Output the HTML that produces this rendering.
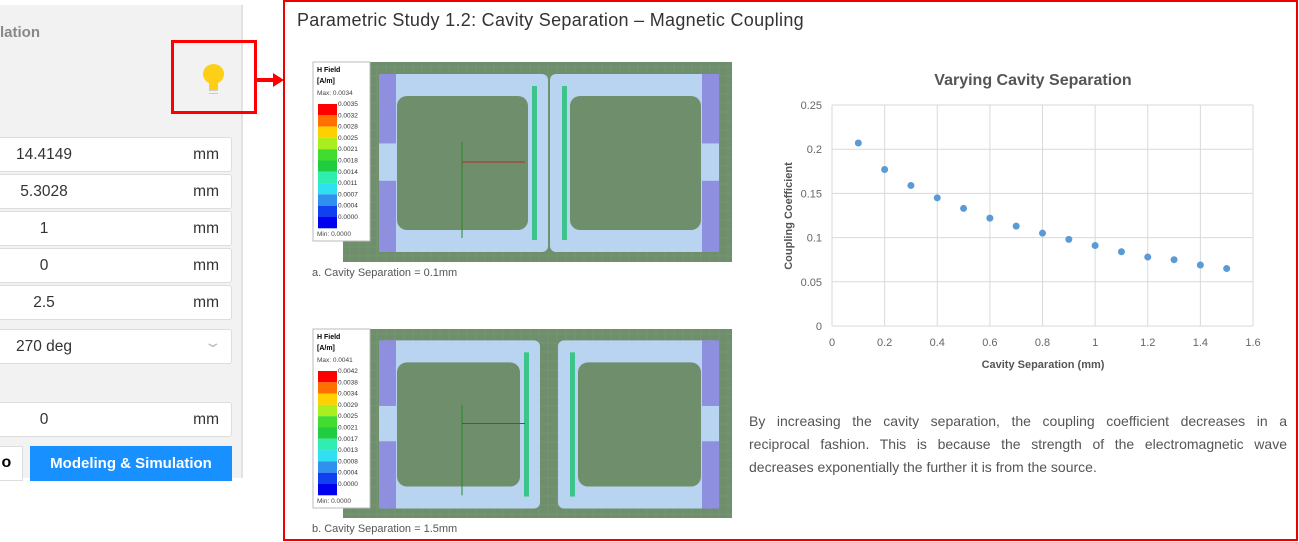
<!DOCTYPE html>
<html><head><meta charset="utf-8"><style>
*{margin:0;padding:0;box-sizing:border-box}
body{width:1299px;height:542px;background:#fff;position:relative;overflow:hidden;font-family:"Liberation Sans",sans-serif}
.abs{position:absolute}
.inp{position:absolute;left:-4px;width:236px;height:35px;background:#fff;border:1px solid #ddd;border-radius:3px;font-size:15.5px;color:#333}
.inp .v{position:absolute;left:0;width:94px;text-align:center;top:8px}
.inp .u{position:absolute;right:12px;top:8px}
.pl{text-align:justify;text-align-last:justify;height:23px;white-space:nowrap}
</style></head><body>
<div class="abs" style="left:0;top:5px;width:243px;height:473px;background:#f2f2f2;border-right:2px solid #e2e2e2"></div>
<div class="abs" style="left:0;top:24px;font-size:15px;font-weight:bold;color:#888">lation</div>
<div class="abs" style="left:171px;top:40px;width:86px;height:74px;border:3px solid #f00"></div>
<div class="abs" style="left:203px;top:64px;width:21px;height:20px;border-radius:50%;background:#fdd017"></div>
<div class="abs" style="left:209px;top:82px;width:9px;height:8px;background:#fdd017"></div>
<div class="abs" style="left:209px;top:90px;width:9px;height:4px;border-top:1px solid #ccc;border-bottom:1px solid #ccc"></div>
<div class="abs" style="left:257px;top:78px;width:17px;height:4px;background:#f00"></div>
<div class="abs" style="left:273px;top:73px;width:0;height:0;border-left:11px solid #f00;border-top:7px solid transparent;border-bottom:7px solid transparent"></div>

<div class="inp" style="top:137px"><span class="v">14.4149</span><span class="u">mm</span></div>
<div class="inp" style="top:174px"><span class="v">5.3028</span><span class="u">mm</span></div>
<div class="inp" style="top:211px"><span class="v">1</span><span class="u">mm</span></div>
<div class="inp" style="top:248px"><span class="v">0</span><span class="u">mm</span></div>
<div class="inp" style="top:285px"><span class="v">2.5</span><span class="u">mm</span></div>
<div class="inp" style="top:329px"><span class="v">270 deg</span><span class="u" style="color:#bbb;top:4px;font-size:14px;transform:scaleX(1.6)">&#8964;</span></div>
<div class="inp" style="top:402px"><span class="v">0</span><span class="u">mm</span></div>
<div class="abs" style="left:-4px;top:446px;width:27px;height:35px;background:#fff;border:1px solid #ddd;font-weight:bold;font-size:16px;padding:7px 0 0 0">&nbsp;o</div>
<div class="abs" style="left:30px;top:446px;width:202px;height:35px;background:#1890ff;color:#fff;font-weight:bold;font-size:15px;text-align:center;line-height:35px">Modeling &amp; Simulation</div>

<div class="abs" style="left:283px;top:0;width:1015px;height:541px;border:2px solid #e00"></div>
<div class="abs" style="left:297px;top:10px;font-size:18px;letter-spacing:0.3px;color:#333">Parametric Study 1.2: Cavity Separation – Magnetic Coupling</div>

<svg class="abs" style="left:0;top:0" width="1299" height="542">
<g id="simA"></g>
<g id="simB"></g>
<text x="312" y="276" font-size="11" fill="#555">a. Cavity Separation = 0.1mm</text>
<text x="312" y="532" font-size="11" fill="#555">b. Cavity Separation = 1.5mm</text>
</svg>

<svg class="abs" style="left:0;top:0" width="1299" height="542" id="chart">
<text x="1033" y="85" text-anchor="middle" font-size="16" font-weight="bold" fill="#555">Varying Cavity Separation</text>
<text transform="translate(792,216) rotate(-90)" text-anchor="middle" font-size="11" font-weight="bold" fill="#555">Coupling Coefficient</text>
<text x="1043" y="368" text-anchor="middle" font-size="11" font-weight="bold" fill="#555">Cavity Separation (mm)</text>
</svg>

<div class="abs" style="left:749px;top:410px;width:538px;font-size:14px;line-height:23px;color:#555">
<div class="pl">By increasing the cavity separation, the coupling coefficient decreases in a</div>
<div class="pl">reciprocal fashion. This is because the strength of the electromagnetic wave</div>
<div>decreases exponentially the further it is from the source.</div>
</div>

<script>
const NS='http://www.w3.org/2000/svg';
function mk(p,t,a){const e=document.createElementNS(NS,t);for(const k in a)e.setAttribute(k,a[k]);p.appendChild(e);return e;}

const xTicks=[0,0.2,0.4,0.6,0.8,1,1.2,1.4,1.6];
const yTicks=[0,0.05,0.1,0.15,0.2,0.25];
const separations=[0.1,0.2,0.3,0.4,0.5,0.6,0.7,0.8,0.9,1.0,1.1,1.2,1.3,1.4,1.5];
const coupling=[0.207,0.177,0.159,0.145,0.133,0.122,0.113,0.105,0.098,0.091,0.084,0.078,0.075,0.069,0.065];

const X0=832,X1=1253,Y0=326,Y1=105;
const sx=v=>X0+(v-0)/(1.6-0)*(X1-X0);
const sy=v=>Y0-(v-0)/(0.25-0)*(Y0-Y1);
const ch=document.getElementById('chart');
xTicks.forEach(t=>{
  const l=mk(ch,'line',{x1:sx(t),x2:sx(t),y1:Y1,y2:Y0,stroke:'#d9d9d9'});
  
  
  const tx=mk(ch,'text',{x:sx(t),y:Y0+20,'text-anchor':'middle','font-size':11,fill:'#666'});
  tx.textContent=t;
  
  
});
yTicks.forEach(t=>{
  const l=mk(ch,'line',{x1:X0,x2:X1,y1:sy(t),y2:sy(t),stroke:'#d9d9d9'});
  
  
  const tx=mk(ch,'text',{x:X0-10,y:sy(t)+4,'text-anchor':'end','font-size':11,fill:'#666'});
  tx.textContent=t;
  
  
});
separations.forEach((s,i)=>{
  const c=mk(ch,'circle',{cx:sx(s),cy:sy(coupling[i]),r:3.5,fill:'#5b9bd5'});
  
  
});

function sim(g,top,bot,gap,vals,mx){
  const h=bot-top;
  mk(g,'rect',{x:343,y:top,width:389,height:h,fill:'#6f8f6c'});
  for(let x=350;x<732;x+=9)mk(g,'line',{x1:x,x2:x,y1:top,y2:bot,stroke:'#7d9a79','stroke-width':0.5});
  for(let y=top+5;y<bot;y+=9)mk(g,'line',{x1:343,x2:732,y1:y,y2:y,stroke:'#7d9a79','stroke-width':0.5});
  const mid=549, t=top+h*0.06, b=bot-h*0.05;
  [[-1],[1]].forEach(([d])=>{
    const inner=mid+d*gap, outer=mid+d*170;
    const L=Math.min(inner,outer),W=Math.abs(outer-inner);
    mk(g,'rect',{x:L,y:t,width:W,height:b-t,fill:'#b8d4f0',rx:6});
    mk(g,'rect',{x:Math.min(inner+d*20,outer-d*18),y:t+22,width:W-38,height:b-t-44,fill:'#6f8f6c',rx:10});
    const ox=d<0?outer:outer-17;
    mk(g,'rect',{x:ox,y:t,width:17,height:(b-t)*0.39,fill:'#8f8fe0'});
    mk(g,'rect',{x:ox,y:t+(b-t)*0.6,width:17,height:(b-t)*0.4,fill:'#8f8fe0'});
    const gx=inner+d*14;
    mk(g,'rect',{x:gx-2,y:t+12,width:5,height:b-t-24,fill:'#3cc48a'});
  });
  mk(g,'line',{x1:462,x2:462,y1:top+h*0.4,y2:top+h*0.88,stroke:'#2a8a2a'});
  mk(g,'line',{x1:462,x2:525,y1:top+h*0.5,y2:top+h*0.5,stroke:'#b03020'});
  mk(g,'rect',{x:313,y:top,width:57,height:179,fill:'#fff',stroke:'#bbb'});
  const t1=mk(g,'text',{x:317,y:top+10,'font-size':7,'font-weight':'bold'});t1.textContent='H Field';
  const t2=mk(g,'text',{x:317,y:top+21,'font-size':7,'font-weight':'bold'});t2.textContent='[A/m]';
  const t3=mk(g,'text',{x:317,y:top+33,'font-size':6.5,fill:'#444'});t3.textContent='Max: '+mx;
  const cols=['#ff0000','#ff7000','#ffd000','#aaee20','#40dd30','#20cc40','#30eeb0','#30e0f0','#3090f0','#1040f0','#0000ee'];
  cols.forEach((c,i)=>mk(g,'rect',{x:318,y:top+42+i*11.3,width:19,height:11.3,fill:c}));
  vals.forEach((v,i)=>{const e=mk(g,'text',{x:338,y:top+44+i*11.3,'font-size':6.5,fill:'#333'});e.textContent=v;});
  const t4=mk(g,'text',{x:317,y:top+174,'font-size':6.5,fill:'#444'});t4.textContent='Min: 0.0000';
}
sim(document.getElementById('simA'),62,262,1,['0.0035','0.0032','0.0028','0.0025','0.0021','0.0018','0.0014','0.0011','0.0007','0.0004','0.0000'],'0.0034');
sim(document.getElementById('simB'),329,518,9,['0.0042','0.0038','0.0034','0.0029','0.0025','0.0021','0.0017','0.0013','0.0008','0.0004','0.0000'],'0.0041');
</script>
</body></html>
